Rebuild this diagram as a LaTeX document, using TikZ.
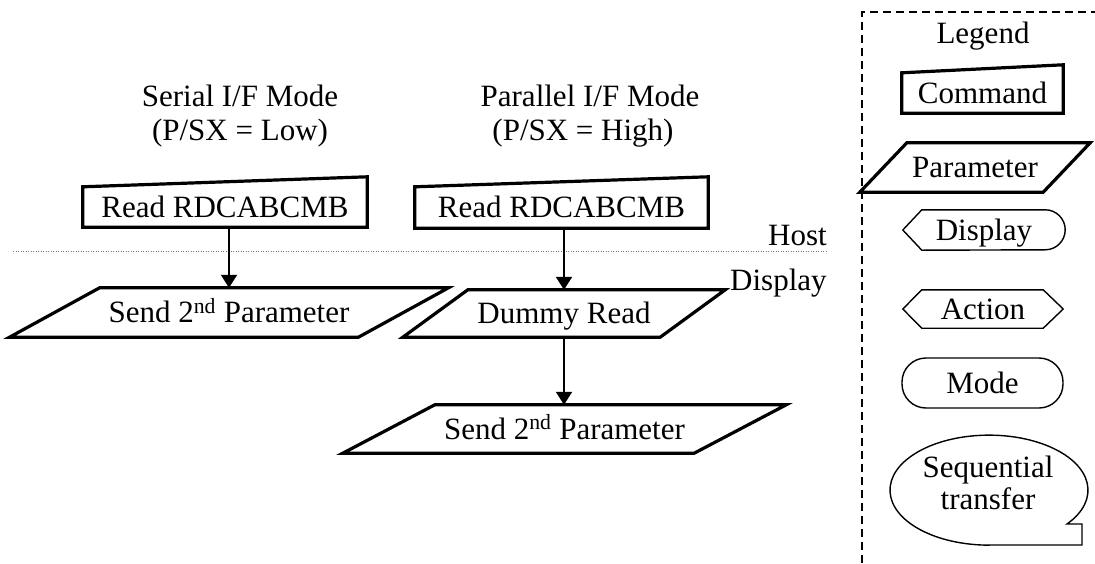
\documentclass[tikz,border=0pt]{standalone}
\usepackage{fontspec}
\setmainfont{Liberation Serif}
\usetikzlibrary{calc,arrows.meta}
\newcommand\parog[2]{\draw[thickline] ($(#1.north west)+(#2,0)$) -- ($(#1.north east)+(#2,0)$) -- ($(#1.south east)+(-#2,0)$) -- ($(#1.south west)+(-#2,0)$) -- cycle;}
\newcommand\cmdbox[2]{\draw[thickline] (#1.south west) -- (#1.south east) -- ($(#1.north east)+(0,-#2)$) -- (#1.north west) -- cycle;}
\begin{document}
\begin{tikzpicture}[x=1pt,y=-1pt,
  lbl/.style={font=\fontsize{31}{33}\selectfont, inner sep=0pt},
  box/.style={lbl, text height=20pt, text depth=0pt, anchor=center},
  thickline/.style={line width=3.2pt, line join=miter},
  thinline/.style={line width=1.4pt},
  flow/.style={line width=2pt, -{Triangle[width=16pt,length=13pt]}},
  sep/.style={line width=1pt, black!55, dash pattern=on 1.2pt off 1.3pt},
  legendframe/.style={line width=1.4pt, dash pattern=on 8pt off 5pt}
]
\useasboundingbox (0,0) rectangle (1095,563);

% headers
\node[lbl, anchor=base] (hS1) at (240,106) {Serial I/F Mode};
\node[lbl, anchor=base] (hS2) at (240,140) {(P/SX = Low)};
\node[lbl, anchor=base] (hP1) at (590,106) {Parallel I/F Mode};
\node[lbl, anchor=base] (hP2) at (583,140) {(P/SX = High)};

% host / display separator
\coordinate (sepL) at (13,251);
\coordinate (sepR) at (827,251);
\draw[sep] (sepL) -- (sepR);
\node[lbl, anchor=base east] (host) at (827,245) {Host};
\node[lbl, anchor=base west] (disp) at (730,290) {Display};

% serial column
\node[box, minimum width=284pt, minimum height=40pt] (cmdS) at (225,207) {Read RDCABCMB};
\cmdbox{cmdS}{10}
\node[box, minimum width=348.5pt, minimum height=49pt] (p1) at (229,312.5) {Send 2\textsuperscript{nd} Parameter};
\parog{p1}{45}
\draw[flow] (p1.north |- cmdS.south) -- (p1.north);

% parallel column
\node[box, minimum width=293pt, minimum height=41pt] (cmdP) at (561.5,207.5) {Read RDCABCMB};
\cmdbox{cmdP}{10}
\node[box, minimum width=257pt, minimum height=47pt] (dummy) at (564,313.5) {Dummy Read};
\parog{dummy}{32.5}
\node[box, minimum width=351pt, minimum height=48pt] (p2) at (564.5,429) {Send 2\textsuperscript{nd} Parameter};
\parog{p2}{46}
\draw[flow] (dummy.north |- cmdP.south) -- (dummy.north);
\draw[flow] (dummy.south) -- (dummy.south |- p2.north);

% legend frame
\coordinate (fB) at (862,563);
\coordinate (fT) at (862,12);
\coordinate (fR) at (1095,12);
\draw[legendframe] (fB) -- (fT) -- (fR);
\node[lbl, anchor=base] (legT) at (983,43) {Legend};

\node[box, minimum width=161pt, minimum height=40pt] (cmdL) at (982.5,93) {Command};
\cmdbox{cmdL}{8}
\node[box, minimum width=183pt, minimum height=49pt] (parL) at (975,167.5) {Parameter};
\parog{parL}{23.5}

\node[box, minimum width=162pt, minimum height=40pt] (dispL) at (984,230) {Display};
\draw[thinline] (dispL.west) -- ($(dispL.north west)+(19,0)$) -- ($(dispL.north east)+(-20,0)$)
  arc[start angle=90, end angle=-90, radius=20pt] -- ($(dispL.south west)+(19,0)$) -- cycle;

\node[box, minimum width=160pt, minimum height=38pt] (actL) at (983,309) {Action};
\draw[thinline] (actL.west) -- ($(actL.north west)+(19,0)$) -- ($(actL.north east)+(-20,0)$) -- (actL.east)
  -- ($(actL.south east)+(-20,0)$) -- ($(actL.south west)+(19,0)$) -- cycle;

\node[box, draw, thinline, rounded corners=24pt, minimum width=161pt, minimum height=50pt] (modeL) at (982.5,383) {Mode};

\node[lbl, align=center, font=\fontsize{31}{32}\selectfont] (seqL) at (988,483) {Sequential\\transfer};
\coordinate (sc) at (989,490);
\draw[thinline] ($(sc)+(0,55)$) -- ($(sc)+(93,55)$) -- ($(sc)+(93,34)$) -- ($(sc)+(78,34)$)
  arc[start angle=-38, end angle=270, x radius=99pt, y radius=55pt] -- cycle;
\end{tikzpicture}
\end{document}
